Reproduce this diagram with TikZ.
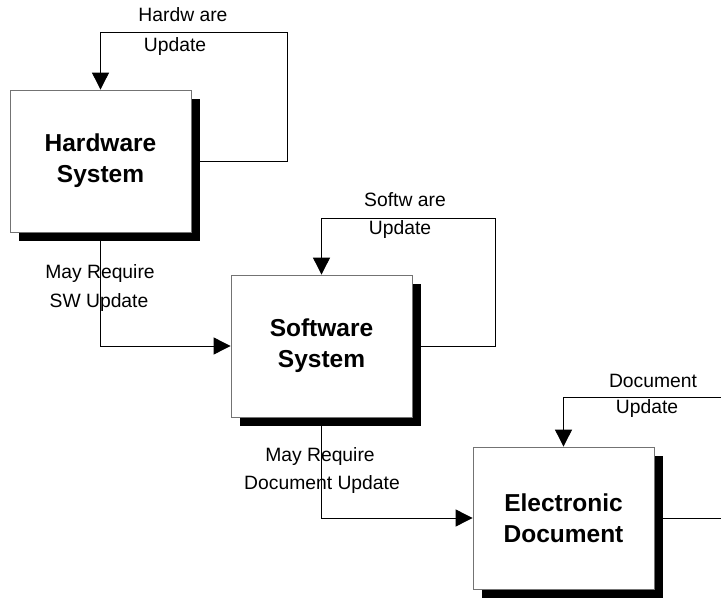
\documentclass[tikz,border=0pt]{standalone}
\usepackage{fontspec}
\setmainfont{Liberation Sans}
\usetikzlibrary{arrows.meta,shadows}
\pgfdeclarelayer{background}
\pgfsetlayers{background,main}
\begin{document}
\begin{tikzpicture}[x=1pt,y=-1pt,
 sysbox/.style={draw=black!55, line width=0.8pt, fill=white, minimum width=181pt, minimum height=142pt, inner sep=0pt, align=center, font=\fontsize{24.5}{31}\selectfont\bfseries, drop shadow={shadow xshift=9pt,shadow yshift=-9pt,fill=black,opacity=1}},
 conn/.style={draw=black, line width=0.9pt},
 arr/.style={conn, -{Triangle[length=17pt,width=17pt]}},
 lbl/.style={font=\fontsize{19.3}{22}\selectfont, anchor=base, inner sep=0pt}]
\useasboundingbox (0,0) rectangle (721,599);
\node[sysbox] (hw) at (100.5,161) {Hardware\\System};
\node[sysbox] (sw) at (321.5,346) {Software\\System};
\node[sysbox] (ed) at (563.5,518) {Electronic\\Document};
\coordinate (hwloop) at (287,32);
\coordinate (swloop) at (495,218);
\coordinate (edin) at (721,397);
\coordinate (edout) at (721,518);
\begin{pgfonlayer}{background}
\draw[arr] (hw.east) -| (hwloop) -| (hw.north);
\draw[arr] (sw.east) -| (swloop) -| (sw.north);
\draw[arr] (edin) -| (ed.north);
\draw[conn] (ed.east) -- (edout);
\draw[arr] (hw.south) |- (sw.west);
\draw[arr] (sw.south) |- (ed.west);
\end{pgfonlayer}
\node[lbl] (t1) at (183,22) {Hardw are};
\node[lbl] (t2) at (175,52) {Update};
\node[lbl] (t3) at (405,207) {Softw are};
\node[lbl] (t4) at (400,235) {Update};
\node[lbl] (t5) at (653,387) {Document};
\node[lbl] (t6) at (647,413) {Update};
\node[lbl] (t7) at (100,279) {May Require};
\node[lbl] (t8) at (99,307) {SW Update};
\node[lbl] (t9) at (320,461) {May Require};
\node[lbl] (t10) at (322,489) {Document Update};
\end{tikzpicture}
\end{document}
